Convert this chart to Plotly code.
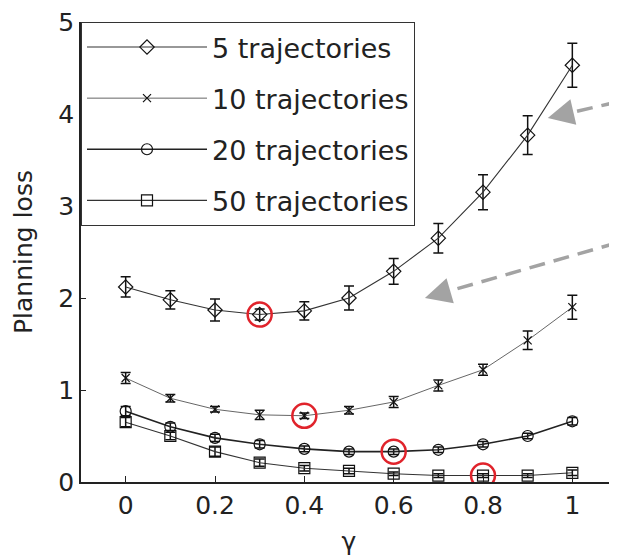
import plotly.graph_objects as go

gamma = [0.0, 0.1, 0.2, 0.3, 0.4, 0.5, 0.6, 0.7, 0.8, 0.9, 1.0]

loss_5 = [2.12, 1.98, 1.87, 1.82, 1.86, 2.00, 2.29, 2.65, 3.15, 3.77, 4.53]
err_5 = [0.11, 0.10, 0.12, 0.06, 0.10, 0.13, 0.14, 0.16, 0.19, 0.21, 0.24]

loss_10 = [1.13, 0.91, 0.79, 0.73, 0.72, 0.78, 0.87, 1.05, 1.22, 1.54, 1.90]
err_10 = [0.06, 0.04, 0.03, 0.05, 0.03, 0.04, 0.06, 0.06, 0.06, 0.10, 0.13]

loss_20 = [0.77, 0.60, 0.48, 0.41, 0.36, 0.33, 0.33, 0.35, 0.41, 0.50, 0.66]
err_20 = [0.05, 0.04, 0.04, 0.04, 0.03, 0.03, 0.03, 0.03, 0.03, 0.03, 0.04]

loss_50 = [0.65, 0.50, 0.33, 0.21, 0.15, 0.12, 0.09, 0.07, 0.07, 0.07, 0.10]
err_50 = [0.05, 0.04, 0.05, 0.04, 0.03, 0.03, 0.02, 0.02, 0.02, 0.02, 0.03]

series_names = ["5 trajectories", "10 trajectories", "20 trajectories", "50 trajectories"]
best_gamma = [0.3, 0.4, 0.6, 0.8]

x_ticks = [0, 0.2, 0.4, 0.6, 0.8, 1]
x_tick_labels = ["0", "0.2", "0.4", "0.6", "0.8", "1"]
y_ticks = [0, 1, 2, 3, 4, 5]
y_tick_labels = ["0", "1", "2", "3", "4", "5"]

FONT = "DejaVu Sans"
fig = go.Figure()

styles = [
    dict(symbol="diamond-open", size=11, lw=1.1, lc="#333333"),
    dict(symbol="x-thin-open", size=8, lw=0.9, lc="#555555"),
    dict(symbol="circle-open", size=11, lw=1.6, lc="#222222"),
    dict(symbol="square-open", size=11, lw=1.1, lc="#333333"),
]
losses = [loss_5, loss_10, loss_20, loss_50]
errs = [err_5, err_10, err_20, err_50]

for i, (name, ys, es, st) in enumerate(zip(series_names, losses, errs, styles)):
    fig.add_trace(go.Scatter(
        x=gamma, y=ys, name=name, mode="lines+markers",
        legendgroup=f"g{i}",
        line=dict(color=st["lc"], width=st["lw"]),
        marker=dict(symbol=st["symbol"], size=st["size"], color="#111111",
                    line=dict(color="#111111", width=1.2)),
        error_y=dict(type="data", array=es, visible=True, color="#111111",
                     thickness=1.5, width=5),
    ))

# red circles at the best gamma of each series
best_loss = [ys[gamma.index(g)] for ys, g in zip(losses, best_gamma)]
fig.add_trace(go.Scatter(
    x=best_gamma, y=best_loss, mode="markers", showlegend=False,
    marker=dict(symbol="circle-open", size=24, color="#e0232b",
                line=dict(color="#e0232b", width=2.5)),
))

# gray dashed arrows
arrows = [((1.10, 4.13), (0.945, 3.957)), ((1.10, 2.60), (0.67, 2.00))]
for (x0, y0), (x1, y1) in arrows:
    fig.add_shape(type="line", xref="x", yref="y", x0=x0, y0=y0, x1=x1, y1=y1,
                  line=dict(color="#a3a3a3", width=3.5, dash="16px,9px"), layer="above")
    fig.add_annotation(x=x1, y=y1, ax=x1 + (x0 - x1) * 0.12, ay=y1 + (y0 - y1) * 0.12,
                       xref="x", yref="y", axref="x", ayref="y", showarrow=True,
                       arrowhead=2, arrowsize=1.5, arrowwidth=3.5, arrowcolor="#a3a3a3", text="")

# the page body has an 8px margin, so the figure is 8px smaller than the window
fig.update_layout(
    width=609, height=552,
    margin=dict(l=73, r=0, t=14, b=78),
    paper_bgcolor="white", plot_bgcolor="white",
    font=dict(family=FONT, size=25, color="#222222"),
    showlegend=True,
    legend=dict(x=0, y=1, xanchor="left", yanchor="top",
                bordercolor="#333333", borderwidth=1, bgcolor="white",
                font=dict(family=FONT, size=27, color="#222222"),
                traceorder="grouped", tracegroupgap=13, itemwidth=120),
    xaxis=dict(range=[-0.1, 1.1], tickvals=x_ticks, ticktext=x_tick_labels,
               showgrid=False, zeroline=False, showline=True, linecolor="#222222",
               linewidth=1.5, ticks="inside", ticklen=6, tickcolor="#222222",
               automargin=False, ticklabeloverflow="allow",
               tickfont=dict(family=FONT, size=25, color="#222222"),
               title=dict(text="γ", font=dict(family=FONT, size=25, color="#222222"), standoff=14)),
    yaxis=dict(range=[0, 5], tickvals=y_ticks, ticktext=y_tick_labels,
               showgrid=False, zeroline=False, showline=True, linecolor="#222222",
               linewidth=1.5, ticks="inside", ticklen=5, tickcolor="#222222",
               automargin=False, ticklabeloverflow="allow",
               tickfont=dict(family=FONT, size=25, color="#222222"),
               title=dict(text="Planning loss", font=dict(family=FONT, size=25, color="#222222"), standoff=19)),
)

fig.write_html("out.html")
